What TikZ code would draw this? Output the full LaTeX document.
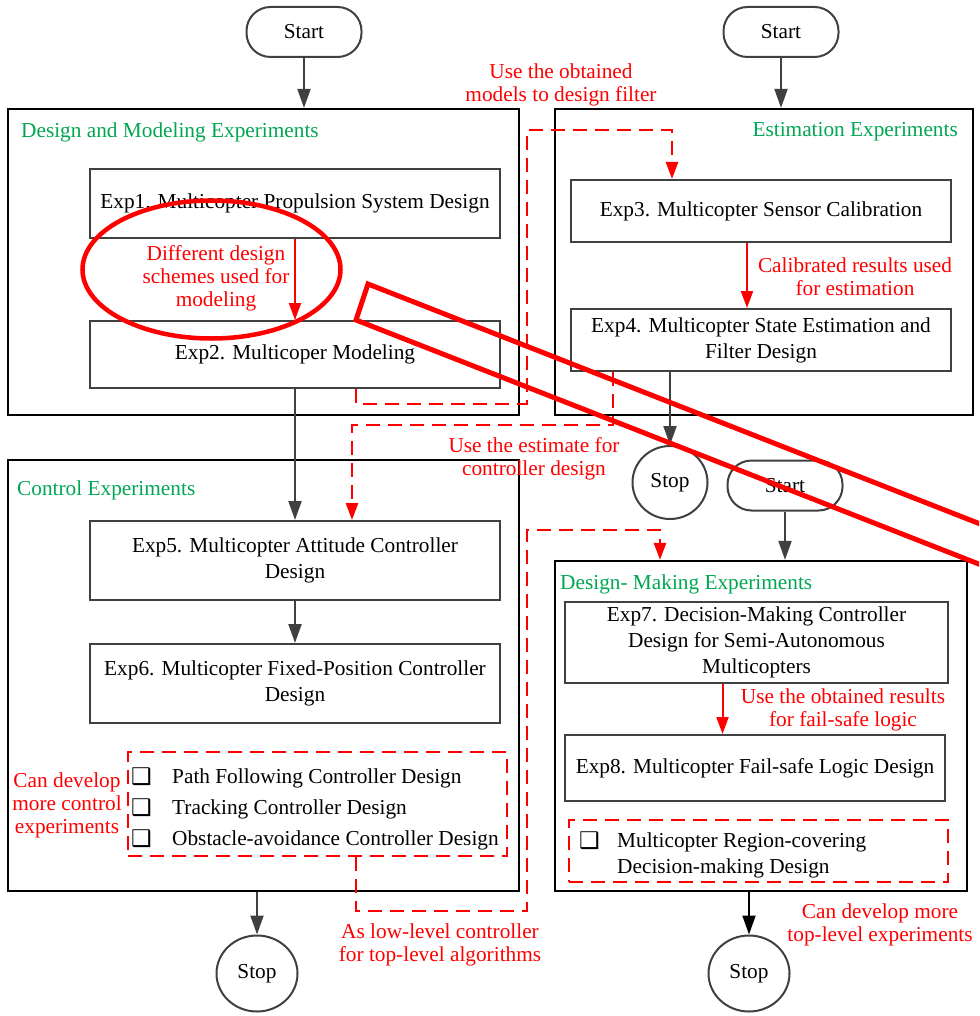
\documentclass[tikz,border=0pt]{standalone}
\usepackage{fontspec}
\setmainfont{Liberation Serif}
\newfontfamily\symfont{DejaVu Sans}
\usetikzlibrary{arrows.meta,shapes.geometric}

\definecolor{edge}{HTML}{404040}
\definecolor{note}{HTML}{FF0000}
\definecolor{grouptitle}{HTML}{00A651}

\begin{document}
\begin{tikzpicture}[x=1pt,y=-1pt,
  font=\fontsize{21.3}{26}\selectfont,
  group/.style={draw=black, line width=2.2pt, inner sep=0pt},
  expbox/.style={draw=edge, line width=2pt, align=center, inner sep=0pt},
  terminal/.style={draw=edge, line width=2pt, rounded corners=24pt,
    minimum width=115pt, minimum height=50pt, inner sep=0pt},
  stopnode/.style={draw=edge, line width=2pt, ellipse, inner sep=0pt},
  flow/.style={draw=edge, line width=2pt, -{Triangle[length=19pt,width=13pt]}},
  link/.style={draw=note, line width=2pt, -{Triangle[length=17pt,width=12pt]}},
  dlink/.style={draw=note, line width=2.5pt, dash pattern=on 14pt off 8pt,
    -{Triangle[length=17pt,width=12pt]}},
  dbox/.style={draw=note, line width=2.5pt, dash pattern=on 14pt off 8pt, inner sep=0pt},
  notetext/.style={text=note, align=center, inner sep=0pt,
    font=\fontsize{21.3}{23}\selectfont},
  title/.style={text=grouptitle, inner sep=0pt},
  item/.style={anchor=west, inner sep=0pt},
  tick/.style={anchor=west, inner sep=0pt, font=\symfont\fontsize{23}{24}\selectfont},
]
\useasboundingbox (0,0) rectangle (979,1016);

% ---- experiment groups ----
\node[group, minimum width=511pt, minimum height=306pt] (g1) at (263.5,262) {};
\node[group, minimum width=418pt, minimum height=306pt] (g2) at (764,262) {};
\node[group, minimum width=511pt, minimum height=431pt] (g3) at (263.5,675.5) {};
\node[group, minimum width=412pt, minimum height=330pt] (g4) at (761,726) {};

\node[title, anchor=west] (t1) at (21,132) {Design and Modeling Experiments};
\node[title, anchor=east] (t2) at (958,132) {Estimation Experiments};
\node[title, anchor=west] (t3) at (17,490) {Control Experiments};
\node[title, anchor=west] (t4) at (560,584) {Design- Making Experiments};

% ---- terminals ----
\node[terminal] (s1) at (304,32) {Start};
\node[terminal] (s2) at (781,32) {Start};
\node[terminal] (s3) at (785,485.5) {Start};
\node[stopnode, minimum width=75pt, minimum height=73pt] (p1) at (670,482.5) {Stop};
\node[stopnode, minimum width=81pt, minimum height=76pt] (p2) at (257,973.5) {Stop};
\node[stopnode, minimum width=81pt, minimum height=76pt] (p3) at (749,973.5) {Stop};

% ---- experiments ----
\node[expbox, minimum width=410pt, minimum height=69pt] (e1) at (295,203.5) {Exp1. Multicopter Propulsion System Design};
\node[expbox, minimum width=410pt, minimum height=67pt] (e2) at (295,354.5) {Exp2. Multicoper Modeling};
\node[expbox, minimum width=380pt, minimum height=62pt] (e3) at (761,211) {Exp3. Multicopter Sensor Calibration};
\node[expbox, minimum width=380pt, minimum height=62pt] (e4) at (761,340) {Exp4. Multicopter State Estimation and\\Filter Design};
\node[expbox, minimum width=410pt, minimum height=79pt] (e5) at (295,560.5) {Exp5. Multicopter Attitude Controller\\Design};
\node[expbox, minimum width=410pt, minimum height=79pt] (e6) at (295,683.5) {Exp6. Multicopter Fixed-Position Controller\\Design};
\node[expbox, minimum width=383pt, minimum height=81pt] (e7) at (756.5,642.5) {Exp7. Decision-Making Controller\\Design for Semi-Autonomous\\Multicopters};
\node[expbox, minimum width=380pt, minimum height=66pt] (e8) at (755,768) {Exp8. Multicopter Fail-safe Logic Design};

% ---- optional experiment lists ----
\node[dbox, minimum width=379pt, minimum height=104pt] (o1) at (317.5,804) {};
\node[tick] (k1) at (131,777) {❑};
\node[tick] (k2) at (131,808) {❑};
\node[tick] (k3) at (131,839) {❑};
\node[item] (i1) at (172,778) {Path Following Controller Design};
\node[item] (i2) at (172,809) {Tracking Controller Design};
\node[item] (i3) at (172,840) {Obstacle-avoidance Controller Design};

\node[dbox, minimum width=379pt, minimum height=62pt] (o2) at (758.5,851) {};
\node[tick] (k4) at (579,841) {❑};
\node[item, align=left] (i4) at (617,855) {Multicopter Region-covering\\Decision-making Design};

% ---- main flow ----
\draw[flow] (s1.south) -- (s1.south |- g1.north);
\draw[flow] (s2.south) -- (s2.south |- g2.north);
\draw[flow] (s3.south) -- (s3.south |- g4.north);
\draw[flow] ([xshift=-91pt]e4.south) -- (p1.north);
\draw[flow] (e2.south) -- (e5.north);
\draw[flow] (e5.south) -- (e6.north);
\draw[flow] (p2.north |- g3.south) -- (p2.north);
\draw[flow, draw=black] (p3.north |- g4.south) -- (p3.north);

% ---- information links ----
\draw[link] (e1.south) -- (e2.north);
\draw[link] ([xshift=-14pt]e3.south) -- ([xshift=-14pt]e3.south |- e4.north);
\draw[link] ([xshift=-34pt]e7.south) -- ([xshift=-34pt]e7.south |- e8.north);

\coordinate (b1) at (527,404);
\coordinate (b2) at (527,130);
\coordinate (b3) at (352,425);
\coordinate (b4) at (527,911);
\coordinate (b5) at (527,530);
\draw[dlink] ([xshift=61pt]e2.south) |- (b1) -- (b2) -| ([xshift=-89pt]e3.north);
\draw[dlink] ([xshift=-148pt]e4.south) |- (b3) -- ([xshift=57pt]e5.north);
\draw[dlink] ([xshift=38.5pt]o1.south) |- (b4) -- (b5) -| ([xshift=-101pt]g4.north);

% ---- link annotations ----
\node[notetext] (n1) at (561,85) {Use the obtained\\models to design filter};
\node[notetext] (n2) at (216,278) {Different design\\schemes used for\\modeling};
\node[notetext] (n3) at (855,277) {Calibrated results used\\for estimation};
\node[notetext] (n4) at (534,459) {Use the estimate for\\controller design};
\node[notetext] (n5) at (67,805) {Can develop\\more control\\experiments};
\node[notetext] (n6) at (843,710) {Use the obtained results\\for fail-safe logic};
\node[notetext] (n7) at (440,945) {As low-level controller\\for top-level algorithms};
\node[notetext] (n8) at (880,925) {Can develop more\\top-level experiments};

% ---- red highlight marks ----
\begin{scope}
  \clip (0,0) rectangle (979,1016);
  \draw[note, line width=4.5pt] (211.5,269.5) ellipse [x radius=129pt, y radius=69pt];
  \draw[note, line width=5pt, line join=miter]
    (1200,650.7) -- (356,320) -- (368,284) -- (1200,610.1);
\end{scope}
\end{tikzpicture}
\end{document}
